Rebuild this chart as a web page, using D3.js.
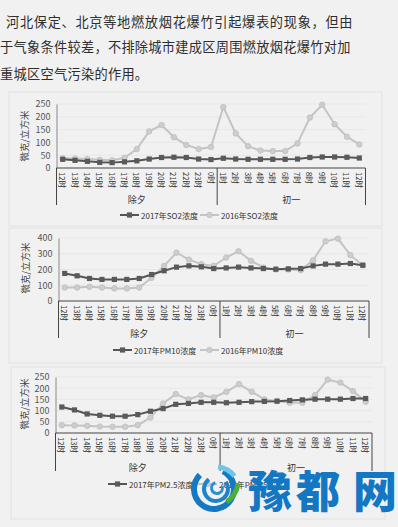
<!DOCTYPE html>
<html><head><meta charset="utf-8">
<script src="https://cdn.jsdelivr.net/npm/d3@7"></script>
<style>
html,body{margin:0;padding:0;background:#f1f1f1;}
svg{display:block;}
text{font-family:"Noto Sans CJK SC","Noto Sans",sans-serif;}
</style></head>
<body>
<svg id="c" width="398" height="527"></svg>
<script>
// ---- data ----
const hours = ["12时","13时","14时","15时","16时","17时","18时","19时","20时","21时","22时","23时","0时",
               "1时","2时","3时","4时","5时","6时","7时","8时","9时","10时","11时","12时"];
const groups = ["除夕","初一"];
const groupCounts = [13,12];

const so2_2017 = [34,30,26,22,21,24,28,35,41,42,41,35,33, 38,35,34,34,34,34,35,41,43,43,42,39];
const so2_2016 = [38,37,35,32,30,40,74,143,168,120,90,74,82, 238,135,85,68,66,66,96,197,247,171,122,92];
const so2Ticks = [0,50,100,150,200,250];

const pm10_2017 = [175,160,143,137,137,137,143,168,192,215,223,217,206, 210,215,210,206,202,204,206,223,234,234,238,227];
const pm10_2016 = [86,86,90,86,80,80,86,147,223,307,263,234,223, 276,316,255,213,200,200,196,259,379,396,291,227];
const pm10Ticks = [0,100,200,300,400];

const pm25_2017 = [116,103,85,79,75,75,82,97,109,128,132,137,137, 135,137,140,141,142,145,148,151,151,151,154,154];
const pm25_2016 = [35,34,32,29,28,28,35,69,132,174,150,169,159, 184,218,184,150,143,135,135,169,238,225,187,140];
const pm25Ticks = [0,50,100,150,200,250];

const paraLines = ["河北保定、北京等地燃放烟花爆竹引起爆表的现象，但由",
                   "于气象条件较差，不排除城市建成区周围燃放烟花爆竹对加",
                   "重城区空气污染的作用。"];
const yTitle = "微克/立方米";

// ---- drawing ----
const svg = d3.select("#c");

// paragraph
const para = svg.append("g").attr("fill","#2e2e2e").attr("font-size",13.2);
para.append("text").attr("x",6).attr("y",27).attr("letter-spacing",0.7).text(paraLines[0]);
para.append("text").attr("x",0).attr("y",52).attr("letter-spacing",0.3).text(paraLines[1]);
para.append("text").attr("x",0).attr("y",79).attr("letter-spacing",0.3).text(paraLines[2]);

function drawChart(o){
  const g = svg.append("g");
  g.append("rect").attr("x",o.frame[0]).attr("y",o.frame[1]).attr("width",o.frame[2]).attr("height",o.frame[3])
    .attr("fill","none").attr("stroke","#e2e2e2").attr("stroke-width",1);
  const x = d3.scaleBand().domain(d3.range(hours.length)).range([o.x0,o.x1]);
  const cx = i => x(i)+x.bandwidth()/2;
  const y = d3.scaleLinear().domain([0,o.ticks[o.ticks.length-1]]).range([o.y0,o.yTop]);
  // gridlines
  g.append("g").selectAll("line").data(o.ticks.slice(1)).join("line")
    .attr("x1",o.x0).attr("x2",o.x1).attr("y1",d=>y(d)).attr("y2",d=>y(d))
    .attr("stroke","#e6e6e6").attr("stroke-width",0.8);
  // y axis
  const ya = g.append("g").attr("transform",`translate(${o.x0},0)`)
    .call(d3.axisLeft(y).tickValues(o.ticks).tickSize(0).tickPadding(6));
  ya.select(".domain").attr("stroke","#8a8a8a").attr("stroke-width",1);
  ya.selectAll("text").attr("fill","#555").attr("font-size",9).attr("font-family","Liberation Sans, Arial, sans-serif");
  // y title
  g.append("text").attr("transform",`translate(${o.titleX},${o.titleY}) rotate(-90)`)
    .attr("text-anchor","middle").attr("dominant-baseline","central")
    .attr("font-size",9.5).attr("fill","#444").text(yTitle);
  // x axis line
  g.append("line").attr("x1",o.x0).attr("x2",o.x1).attr("y1",o.y0).attr("y2",o.y0)
    .attr("stroke","#444").attr("stroke-width",1);
  // tick labels
  g.append("g").selectAll("text").data(hours).join("text")
    .attr("transform",(d,i)=>`translate(${cx(i)},${o.y0+4}) rotate(90)`)
    .attr("dominant-baseline","central").attr("font-size",7.6).attr("fill","#333").text(d=>d);
  // group separators and labels
  let start=0; const bounds=[0];
  groupCounts.forEach(c=>{start+=c;bounds.push(start);});
  g.append("g").selectAll("line").data(bounds).join("line")
    .attr("x1",i=> i<hours.length ? x(i) : o.x1).attr("x2",i=> i<hours.length ? x(i) : o.x1)
    .attr("y1",o.y0).attr("y2",o.y0+o.sepLen)
    .attr("stroke","#444").attr("stroke-width",1);
  g.append("g").selectAll("text").data(groups).join("text")
    .attr("x",(d,k)=>{const a=bounds[k], b=bounds[k+1]; return ((a<hours.length?x(a):o.x1)+(b<hours.length?x(b):o.x1))/2;})
    .attr("y",o.y0+o.grpDy).attr("text-anchor","middle").attr("dominant-baseline","central")
    .attr("font-size",9).attr("fill","#333").text(d=>d);
  // lines
  const line = d3.line().x((d,i)=>cx(i)).y(d=>y(d));
  g.append("path").datum(o.s2016).attr("d",line).attr("fill","none").attr("stroke","#c4c4c4").attr("stroke-width",2);
  g.append("g").selectAll("circle").data(o.s2016).join("circle")
    .attr("cx",(d,i)=>cx(i)).attr("cy",d=>y(d)).attr("r",2.8)
    .attr("fill","#cdcdcd").attr("stroke","#b8b8b8").attr("stroke-width",0.6);
  g.append("path").datum(o.s2017).attr("d",line).attr("fill","none").attr("stroke","#555").attr("stroke-width",2);
  g.append("g").selectAll("rect").data(o.s2017).join("rect")
    .attr("x",(d,i)=>cx(i)-2.6).attr("y",d=>y(d)-2.6).attr("width",5.2).attr("height",5.2)
    .attr("fill","#5a5a5a");
  // legend
  const L = g.append("g");
  const ly=o.legY;
  L.append("line").attr("x1",o.leg1[0]).attr("x2",o.leg1[0]+19).attr("y1",ly).attr("y2",ly).attr("stroke","#555").attr("stroke-width",2);
  L.append("rect").attr("x",o.leg1[0]+9.5-2.6).attr("y",ly-2.6).attr("width",5.2).attr("height",5.2).attr("fill","#5a5a5a");
  L.append("text").attr("x",o.leg1[0]+21).attr("y",ly).attr("dominant-baseline","central").attr("font-size",8).attr("fill","#333").text(o.name1);
  L.append("line").attr("x1",o.leg2[0]).attr("x2",o.leg2[0]+19).attr("y1",ly).attr("y2",ly).attr("stroke","#c4c4c4").attr("stroke-width",2);
  L.append("circle").attr("cx",o.leg2[0]+9.5).attr("cy",ly).attr("r",2.8).attr("fill","#cdcdcd").attr("stroke","#b8b8b8").attr("stroke-width",0.6);
  L.append("text").attr("x",o.leg2[0]+21).attr("y",ly).attr("dominant-baseline","central").attr("font-size",8).attr("fill","#333").text(o.name2);
}

drawChart({frame:[9,92,373,134], x0:56.5, x1:365.5, y0:168, yTop:104, ticks:so2Ticks,
  s2017:so2_2017, s2016:so2_2016, titleX:24, titleY:136, sepLen:37, grpDy:31,
  legY:215, leg1:[120], leg2:[200], name1:"2017年SO2浓度", name2:"2016年SO2浓度"});
drawChart({frame:[9,228,373,135], x0:58.5, x1:369, y0:301, yTop:238, ticks:pm10Ticks,
  s2017:pm10_2017, s2016:pm10_2016, titleX:25, titleY:268, sepLen:37, grpDy:32,
  legY:350, leg1:[113], leg2:[200], name1:"2017年PM10浓度", name2:"2016年PM10浓度"});
drawChart({frame:[11,367,374,152], x0:55.5, x1:372, y0:433, yTop:377, ticks:pm25Ticks,
  s2017:pm25_2017, s2016:pm25_2016, titleX:24, titleY:404, sepLen:38, grpDy:34,
  legY:484, leg1:[108], leg2:[198], name1:"2017年PM2.5浓度", name2:"2016年PM2.5浓度"});

// watermark logo
const wm = svg.append("g");
const lc = [214,489];
const arc = d3.arc();
wm.append("path").attr("transform",`translate(${lc})`)
  .attr("d",arc({innerRadius:17,outerRadius:23,startAngle:Math.PI*0.15,endAngle:Math.PI*1.75})).attr("fill","#1478c2");
wm.append("path").attr("transform",`translate(${lc[0]+2},${lc[1]})`)
  .attr("d",arc({innerRadius:10,outerRadius:14,startAngle:Math.PI*0.3,endAngle:Math.PI*1.8})).attr("fill","#1c84cc");
wm.append("path").attr("transform",`translate(${lc[0]+3},${lc[1]-1})`)
  .attr("d",arc({innerRadius:4,outerRadius:7,startAngle:Math.PI*0.4,endAngle:Math.PI*1.9})).attr("fill","#2a8fd4");
wm.append("path").attr("transform",`translate(${lc[0]},${lc[1]+4})`)
  .attr("d",arc({innerRadius:24,outerRadius:29,startAngle:Math.PI*0.05,endAngle:Math.PI*0.28})).attr("fill","#6fc7e8");
wm.append("path").attr("transform",`translate(${lc[0]-4},${lc[1]-10})`)
  .attr("d",arc({innerRadius:26,outerRadius:31,startAngle:Math.PI*0.55,endAngle:Math.PI*0.8})).attr("fill","#4caf3c");
const wmChars = ["豫","都","网"];
wm.selectAll("text.w").data(wmChars).join("text").attr("class","w")
  .attr("x",(d,i)=>[248,296,353][i]).attr("y",508)
  .attr("font-size",44).attr("font-weight",900).attr("fill","#1477c4").text(d=>d);
</script>
</body></html>
